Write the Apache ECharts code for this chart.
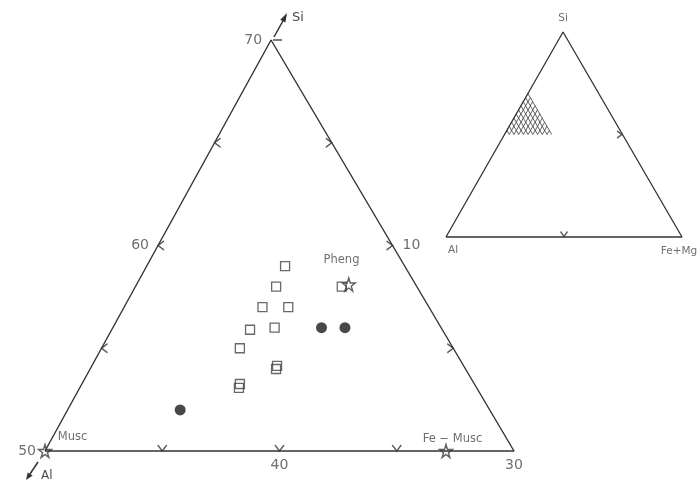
<!DOCTYPE html>
<html>
<head>
<meta charset="utf-8">
<script src="https://cdn.jsdelivr.net/npm/echarts@6/dist/echarts.min.js"></script>
<style>
  html, body { margin: 0; padding: 0; background: #fff; }
  #main { width: 699px; height: 483px; }
</style>
</head>
<body>
<div id="main"></div>
<script>
// --- data: main diagram covers Si 50-70, Fe+Mg 0-20 (Al is the rest) ---
const cornerSi = [50, 70, 50, 50];
const cornerFe = [0, 0, 20, 0];

// open squares
const squareSi = [59.0, 58.0, 57.0, 57.0, 55.9, 56.0, 55.0, 54.14, 53.99, 53.26, 53.07, 58.0];
const squareFe = [5.9, 6.0, 5.9, 7.0, 5.9, 6.9, 5.9, 7.9, 7.93, 6.74, 6.79, 8.8];

// filled dots
const dotSi = [56.0, 56.0, 52.0];
const dotFe = [8.9, 9.9, 4.8];

// end-member stars
const starNames = ['Musc', 'Pheng', 'Fe \u2212 Musc'];
const starSi = [50, 58.1, 50];
const starFe = [0, 9.05, 17.1];

// edge ticks
const siTicks = [55, 60, 65];   // left edge
const alTicks = [45, 40, 35];   // bottom edge
const feTicks = [5, 10, 15];    // right edge

// axis numbers
const siLabels = [70, 60, 50];
const alLabels = [40, 30];
const feLabels = [10];

// inset: full triangle, hatched field Si 50-70, Fe+Mg 0-20
const insetSi = [0, 100, 0, 0];
const insetFe = [0, 0, 100, 0];
const insetNames = ['Al', 'Si', 'Fe+Mg'];
const hatchSi = [50, 70];
const hatchFe = [0, 20];

// --- ternary -> cartesian ---
const APEX = 0.482;
function toMain(si, fe) {
  const a = (si - 50) / 20, c = fe / 20;
  return [APEX * a + c, a];
}
function toInset(si, fe) {
  const a = si / 100, c = fe / 100;
  return [0.496 * a + c, a];
}

const ink = '#333';
const txt = '#4a4a4a';
const font = 'DejaVu Sans';

// hatch lines inside the sub-triangle (two families, step 2)
const hatchData = [];
for (let fe = hatchFe[0]; fe <= hatchFe[1]; fe += 2) {
  hatchData.push(toInset(hatchSi[0], fe), toInset(hatchSi[1] - fe, fe), null);
}
for (let al = 30; al <= 50; al += 2) {
  hatchData.push(toInset(100 - al, 0), toInset(hatchSi[0], 50 - al), null);
}

const starPath = 'path://M50,0 L61,35 L98,35 L68,57 L79,91 L50,70 L21,91 L32,57 L2,35 L39,35 Z';

function tickSeries(data, path, size, offset, idx) {
  return {
    type: 'scatter', xAxisIndex: idx, yAxisIndex: idx, clip: false, silent: true,
    data: data, symbol: path, symbolSize: size, symbolOffset: offset,
    itemStyle: { color: 'transparent', borderColor: ink, borderWidth: 1.3 }
  };
}
function labelSeries(data, pos, dist) {
  return {
    type: 'scatter', xAxisIndex: 0, yAxisIndex: 0, clip: false, silent: true,
    symbolSize: 0, data: data,
    label: { show: true, position: pos, distance: dist, color: txt, fontFamily: font,
             fontSize: 14, formatter: p => p.data[2] }
  };
}

const chart = echarts.init(document.getElementById('main'));
const option = {
  backgroundColor: '#fff',
  animation: false,
  grid: [
    { left: 45, top: 40, width: 469, height: 411 },
    { left: 446, top: 32, width: 236, height: 205 }
  ],
  xAxis: [
    { type: 'value', min: 0, max: 1, show: false, gridIndex: 0 },
    { type: 'value', min: 0, max: 1, show: false, gridIndex: 1 }
  ],
  yAxis: [
    { type: 'value', min: 0, max: 1, show: false, gridIndex: 0 },
    { type: 'value', min: 0, max: 1, show: false, gridIndex: 1 }
  ],
  series: [
    // main triangle
    {
      type: 'line', xAxisIndex: 0, yAxisIndex: 0, clip: false, silent: true, symbol: 'none',
      data: cornerSi.map((s, i) => toMain(s, cornerFe[i])),
      lineStyle: { color: ink, width: 1.4 }
    },
    tickSeries(siTicks.map(s => toMain(s, 0)), 'path://M10,0L0,5L10,10', [6, 9], [3, 0], 0),
    tickSeries(alTicks.map(a => toMain(50, 50 - a)), 'path://M0,0L5,8L10,0', [9, 6], [0, -3], 0),
    tickSeries(feTicks.map(f => toMain(70 - f, f)), 'path://M0,0L10,5L0,10', [6, 9], [-3, 0], 0),
    // samples
    {
      type: 'scatter', xAxisIndex: 0, yAxisIndex: 0, clip: false,
      data: squareSi.map((s, i) => toMain(s, squareFe[i])),
      symbol: 'rect', symbolSize: 9,
      itemStyle: { color: 'transparent', borderColor: '#444', borderWidth: 1.3 }
    },
    {
      type: 'scatter', xAxisIndex: 0, yAxisIndex: 0, clip: false,
      data: dotSi.map((s, i) => toMain(s, dotFe[i])),
      symbol: 'circle', symbolSize: 11,
      itemStyle: { color: '#1a1a1a' }
    },
    {
      type: 'scatter', xAxisIndex: 0, yAxisIndex: 0, clip: false,
      data: starSi.map((s, i) => toMain(s, starFe[i]).concat(starNames[i])),
      symbol: starPath, symbolSize: 13,
      itemStyle: { color: 'transparent', borderColor: '#3a3a3a', borderWidth: 1.4 },
      label: {
        show: true, color: txt, fontFamily: font, fontSize: 11.5,
        formatter: p => p.data[2],
        position: 'top'
      },
      labelLayout: function (p) {
        if (p.dataIndex === 0) return { x: p.rect.x + 20, y: p.rect.y - 1, align: 'left', verticalAlign: 'bottom' };
        if (p.dataIndex === 1) return { x: p.rect.x - 18, y: p.rect.y - 11, align: 'left', verticalAlign: 'bottom' };
        return { x: p.rect.x - 16, y: p.rect.y + 1, align: 'left', verticalAlign: 'bottom' };
      }
    },
    // axis numbers
    labelSeries(siLabels.map(s => toMain(s, 0).concat(String(s))), 'left', 9),
    labelSeries(alLabels.map(a => toMain(50, 50 - a).concat(String(a))), 'bottom', 7),
    labelSeries(feLabels.map(f => toMain(70 - f, f).concat(String(f))), 'right', 10),

    // inset
    {
      type: 'line', xAxisIndex: 1, yAxisIndex: 1, clip: false, silent: true, symbol: 'none',
      data: insetSi.map((s, i) => toInset(s, insetFe[i])),
      lineStyle: { color: ink, width: 1.3 }
    },
    {
      type: 'line', xAxisIndex: 1, yAxisIndex: 1, clip: false, silent: true, symbol: 'none',
      data: hatchData, connectNulls: false,
      lineStyle: { color: '#3a3a3a', width: 0.8 }
    },
    tickSeries([toInset(0, 50)], 'path://M0,0L5,8L10,0', [7, 5], [0, -3], 1),
    tickSeries([toInset(50, 50)], 'path://M0,0L10,5L0,10', [5, 7], [-3, 0], 1),
    {
      type: 'scatter', xAxisIndex: 1, yAxisIndex: 1, clip: false, silent: true, symbolSize: 0,
      data: insetSi.slice(0, 3).map((s, i) => toInset(s, insetFe[i]).concat(insetNames[i])),
      label: {
        show: true, color: txt, fontFamily: font, fontSize: 10.5,
        formatter: p => p.data[2], position: 'bottom', distance: 8
      },
      labelLayout: function (p) {
        if (p.dataIndex === 1) return { dy: -27 };
        if (p.dataIndex === 0) return { dx: 7 };
        return { dx: -3, dy: 1 };
      }
    }
  ],
  graphic: [
    // apex dash
    { type: 'line', shape: { x1: 273, y1: 40, x2: 282, y2: 40 }, style: { stroke: ink, lineWidth: 1.3 } },
    // Si arrow
    { type: 'line', shape: { x1: 274, y1: 37, x2: 284, y2: 19 }, style: { stroke: ink, lineWidth: 1.5 } },
    { type: 'polygon', shape: { points: [[287, 13], [285.4, 22.6], [280.2, 19.8]] }, style: { fill: ink } },
    { type: 'text', left: 292, top: 11, style: { text: 'Si', fill: txt, font: '13px "DejaVu Sans"' } },
    // Al arrow
    { type: 'line', shape: { x1: 38, y1: 462, x2: 30, y2: 474 }, style: { stroke: ink, lineWidth: 1.5 } },
    { type: 'polygon', shape: { points: [[26, 480], [32.7, 475.6], [27.7, 472.4]] }, style: { fill: ink } },
    { type: 'text', left: 41, top: 470, style: { text: 'Al', fill: txt, font: '12px "DejaVu Sans"' } }
  ]
};
chart.setOption(option);
</script>
</body>
</html>
